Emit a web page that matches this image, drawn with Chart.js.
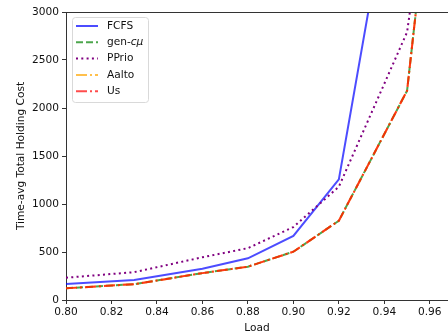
<!DOCTYPE html>
<html>
<head>
<meta charset="utf-8">
<script src="https://cdn.jsdelivr.net/npm/chart.js@4/dist/chart.umd.min.js"></script>
<style>
  body { margin: 0; background: #fff; overflow: hidden; }
  #c { display: block; }
</style>
</head>
<body>
<canvas id="c" width="448" height="335"></canvas>
<script>
// load values (x axis)
var loads = [0.80, 0.83, 0.86, 0.88, 0.90, 0.92, 0.95, 0.96];

// time-avg total holding cost per policy
var fcfs  = [167, 208, 325, 434, 667, 1257, 5300, 7000];
var gencmu = [122, 165, 280, 347, 503, 826, 2180, 4300];
var pprio = [232, 290, 445, 540, 760, 1180, 2790, 4500];
var aalto = [122, 165, 280, 347, 503, 826, 2180, 4300];
var us    = [122, 165, 280, 347, 503, 826, 2180, 4300];

var xTicks = [0.80, 0.82, 0.84, 0.86, 0.88, 0.90, 0.92, 0.94, 0.96];
var yTicks = [0, 500, 1000, 1500, 2000, 2500, 3000];

function pts(arr) {
  return arr.map(function(v, i) { return {x: loads[i], y: v}; });
}

var font = { family: 'DejaVu Sans', size: 10.6 };

// top spine + legend box in the upper left corner
var extras = {
  id: 'extras',
  afterDraw: function(chart) {
    var ctx = chart.ctx, a = chart.chartArea;
    ctx.save();
    ctx.strokeStyle = '#333';
    ctx.lineWidth = 1;
    ctx.beginPath();
    ctx.moveTo(a.left, a.top + 0.5);
    ctx.lineTo(a.right, a.top + 0.5);
    ctx.stroke();

    var bx = 72.5, by = 17.5, bw = 76, bh = 85;
    ctx.fillStyle = 'rgba(255,255,255,0.8)';
    ctx.strokeStyle = '#d9d9d9';
    ctx.beginPath();
    if (ctx.roundRect) ctx.roundRect(bx, by, bw, bh, 3); else ctx.rect(bx, by, bw, bh);
    ctx.fill();
    ctx.stroke();

    ctx.font = '10.6px "DejaVu Sans"';
    ctx.textBaseline = 'middle';
    chart.data.datasets.forEach(function(ds, i) {
      var y = 26 + i * 16.3;
      ctx.strokeStyle = ds.borderColor;
      ctx.lineWidth = ds.borderWidth;
      ctx.setLineDash(ds.borderDash || []);
      ctx.beginPath();
      ctx.moveTo(76, y);
      ctx.lineTo(98, y);
      ctx.stroke();
      ctx.setLineDash([]);
      ctx.fillStyle = '#111';
      if (ds.label === 'gen-cμ') {
        ctx.fillText('gen-', 107, y);
        var w = ctx.measureText('gen-').width;
        ctx.font = 'italic 10.6px "DejaVu Sans"';
        ctx.fillText('cμ', 107 + w, y);
        ctx.font = '10.6px "DejaVu Sans"';
      } else {
        ctx.fillText(ds.label, 107, y);
      }
    });
    ctx.restore();
  }
};

new Chart(document.getElementById('c'), {
  type: 'line',
  data: {
    datasets: [
      { label: 'FCFS', data: pts(fcfs), borderColor: 'rgba(0,0,255,0.7)', borderWidth: 2, borderDash: [], order: 4 },
      { label: 'gen-cμ', data: pts(gencmu), borderColor: 'rgba(0,128,0,0.7)', borderWidth: 2, borderDash: [7, 3], order: 3 },
      { label: 'PPrio', data: pts(pprio), borderColor: 'rgb(128,0,128)', borderWidth: 2, borderDash: [2, 3.3], order: 2 },
      { label: 'Aalto', data: pts(aalto), borderColor: 'rgba(255,165,0,0.7)', borderWidth: 2, borderDash: [11, 3, 2, 3], order: 1 },
      { label: 'Us', data: pts(us), borderColor: 'rgba(255,0,0,0.7)', borderWidth: 2, borderDash: [11, 3, 2, 3], order: 0 }
    ]
  },
  options: {
    responsive: false,
    animation: false,
    layout: { padding: { top: 12, right: 0, left: 0, bottom: 0 } },
    elements: { point: { radius: 0 }, line: { tension: 0, fill: false } },
    plugins: { legend: { display: false }, tooltip: { enabled: false } },
    scales: {
      x: {
        type: 'linear',
        min: 0.80,
        max: 0.968,
        afterBuildTicks: function(s) { s.ticks = xTicks.map(function(v) { return {value: v}; }); },
        afterFit: function(s) { s.height = 35; },
        ticks: { color: '#111', font: font, padding: 2, maxRotation: 0, autoSkip: false,
                 callback: function(v) { return v.toFixed(2); } },
        grid: { drawOnChartArea: false, drawTicks: true, tickLength: 4, color: '#333' },
        border: { color: '#333', width: 1 },
        title: { display: true, text: 'Load', color: '#111', font: font, padding: { top: 0, bottom: 0 } }
      },
      y: {
        min: 0,
        max: 3000,
        afterBuildTicks: function(s) { s.ticks = yTicks.map(function(v) { return {value: v}; }); },
        afterFit: function(s) { s.width = 66; },
        ticks: { color: '#111', font: font, padding: 3, callback: function(v) { return String(v); } },
        grid: { drawOnChartArea: false, drawTicks: true, tickLength: 4, color: '#333' },
        border: { color: '#333', width: 1 },
        title: { display: true, text: 'Time-avg Total Holding Cost', color: '#111', font: font, padding: { top: 15, bottom: 4 } }
      }
    }
  },
  plugins: [extras]
});
</script>
</body>
</html>
